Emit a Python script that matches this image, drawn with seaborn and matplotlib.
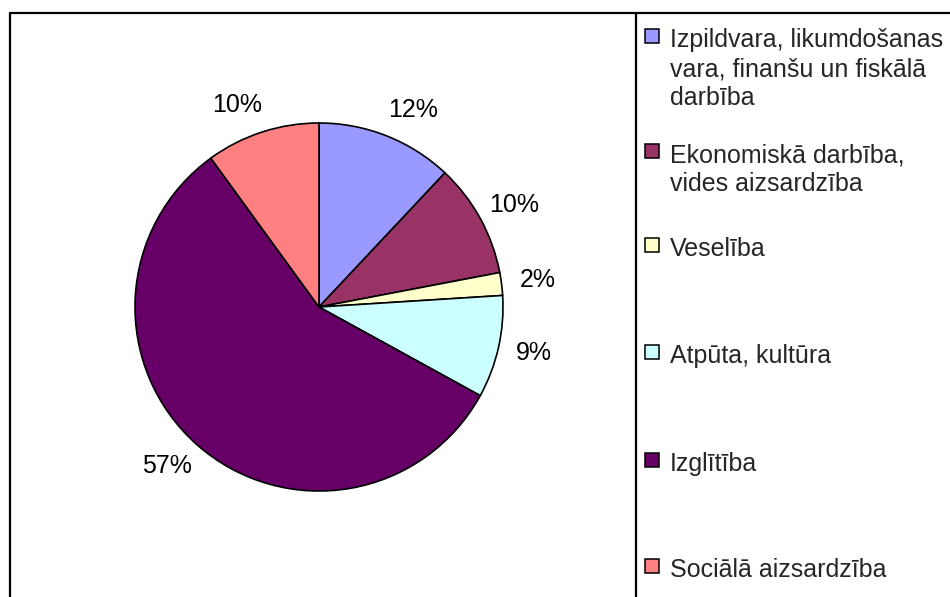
import matplotlib
matplotlib.use("Agg")
import numpy as np
import matplotlib.pyplot as plt
from matplotlib.patches import Rectangle
from matplotlib.lines import Line2D
import seaborn as sns

categories = [
    "Izpildvara, likumdošanas\nvara, finanšu un fiskālā\ndarbība",
    "Ekonomiskā darbība,\nvides aizsardzība",
    "Veselība",
    "Atpūta, kultūra",
    "Izglītība",
    "Sociālā aizsardzība",
]
values = [12, 10, 2, 9, 57, 10]
colors = ["#9999FF", "#993366", "#FFFFCC", "#CCFFFF", "#660066", "#FF8080"]

sns.set_theme(style="white")
plt.rcParams["font.family"] = ["Liberation Sans", "DejaVu Sans"]

W, H = 950, 597
FS = 18
fig = plt.figure(figsize=(W / 100, H / 100), dpi=100)
fig.patch.set_facecolor("white")

cx, cy, r = 319, 307, 184
ax = fig.add_axes([(cx - r) / W, (H - cy - r) / H, 2 * r / W, 2 * r / H])
wedges, texts = ax.pie(
    values, colors=colors, startangle=90, counterclock=False,
    wedgeprops=dict(edgecolor="black", linewidth=1.2),
)
ax.set_xlim(-1, 1)
ax.set_ylim(-1, 1)
ax.set_aspect("equal")
ax.axis("off")

# Percentage labels placed just outside the rim (Excel-like)
total = sum(values)
Rx, Ry, hw = 200 / r, 212 / r, 20 / r
for w, v in zip(wedges, values):
    ang = np.deg2rad((w.theta1 + w.theta2) / 2)
    dx, dy = np.cos(ang), np.sin(ang)
    x = Rx * dx + np.sign(dx) * hw
    y = Ry * dy
    ax.text(x, y, f"{100 * v / total:.0f}%", fontsize=FS, ha="center",
            va="center", color="black", clip_on=False)

# Outer border and separator line (figure pixel coords)
px = lambda x: x / W
py = lambda y: 1 - y / H
fig.add_artist(Line2D([px(9.5), px(952)], [py(12.5), py(12.5)], color="black", lw=1.6))
fig.add_artist(Line2D([px(9.5), px(9.5)], [py(12.5), py(600)], color="black", lw=1.6))
fig.add_artist(Line2D([px(635.5), px(635.5)], [py(12.5), py(600)], color="black", lw=1.6))

# Legend (manual placement to match spacing)
first_baseline = [47, 162, 256, 363, 471, 577]
line_step = 29
for label, col, yb in zip(categories, colors, first_baseline):
    fig.add_artist(Rectangle((px(645), py(yb - 4)), 14 / W, 14 / H,
                             facecolor=col, edgecolor="black", lw=1.1))
    for i, line in enumerate(label.split("\n")):
        fig.text(px(670), py(yb + i * line_step), line, fontsize=FS,
                 va="baseline", ha="left")

fig.savefig("out.png", dpi=100)
